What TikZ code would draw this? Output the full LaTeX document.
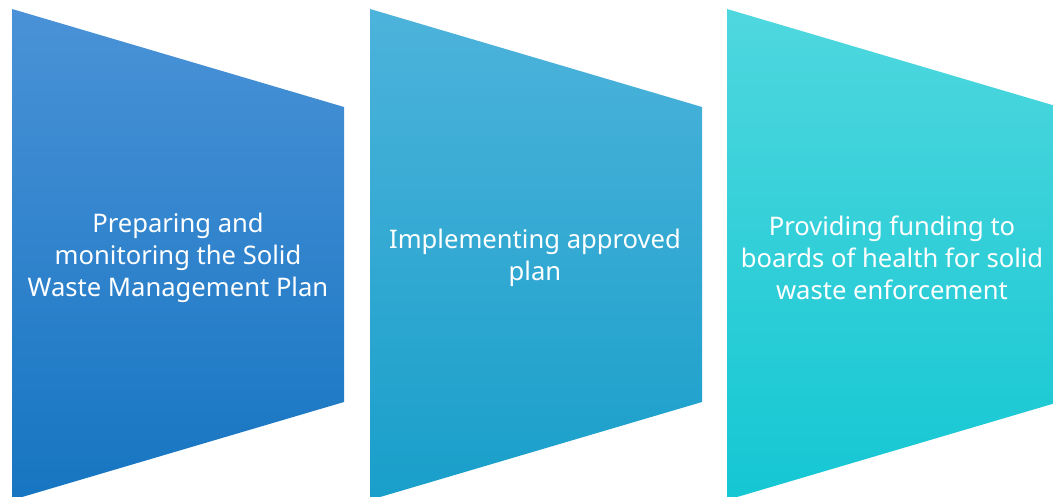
\documentclass[tikz,border=0pt]{standalone}
\usepackage{fontspec}
\setmainfont{Noto Sans}
\definecolor{aTop}{HTML}{4A92D7}
\definecolor{aBot}{HTML}{1675C1}
\definecolor{bTop}{HTML}{4DB3DB}
\definecolor{bBot}{HTML}{189FCA}
\definecolor{cTop}{HTML}{4FD7DE}
\definecolor{cBot}{HTML}{14C7D3}
\tikzset{
  lbl/.style={text=white, align=center, font=\fontsize{25.6}{32}\selectfont, inner sep=0pt}
}
\begin{document}
\begin{tikzpicture}[x=1pt,y=1pt]
\useasboundingbox (0,0) rectangle (1053,497);
\shade[top color=aTop, bottom color=aBot] (12,488) -- (344,390) -- (344,95) -- (12,-3) -- cycle;
\shade[top color=bTop, bottom color=bBot] (370,488) -- (702,390) -- (702,95) -- (370,-3) -- cycle;
\shade[top color=cTop, bottom color=cBot] (727,488) -- (1059,390) -- (1059,95) -- (727,-3) -- cycle;
\node[lbl] (t1) at (178,239.5) {Preparing and\\monitoring the Solid\\Waste Management Plan};
\node[lbl] (t2) at (535,239.5) {Implementing approved\\plan};
\node[lbl] (t3) at (892,239.5) {Providing funding to\\boards of health for solid\\waste enforcement};
\end{tikzpicture}
\end{document}
